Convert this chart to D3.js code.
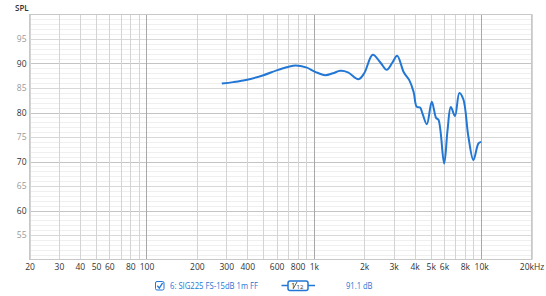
<!DOCTYPE html>
<html><head><meta charset="utf-8">
<script src="https://cdn.jsdelivr.net/npm/d3@7"></script>
<style>
html,body{margin:0;padding:0;background:#fff;}
svg{display:block;font-family:"Open Sans","Noto Sans",sans-serif;}
</style></head>
<body>
<svg id="c" width="546" height="296"></svg>
<script>
// Data
const freqs = [282, 330, 400, 500, 600, 700, 780, 900, 1020, 1170, 1300, 1440, 1600, 1850, 2000, 2250, 2500, 2730, 2950, 3150, 3450, 3720, 3950, 4120, 4320, 4460, 4740, 5070, 5380, 5560, 6010, 6300, 6590, 6980, 7410, 7830, 8390, 8990, 9640, 10000];
const spl   = [85.9, 86.2, 86.7, 87.6, 88.6, 89.3, 89.6, 89.2, 88.3, 87.6, 88.0, 88.5, 88.2, 86.8, 88.0, 91.8, 90.2, 88.7, 90.2, 91.6, 88.2, 86.6, 84.2, 81.2, 81.0, 79.8, 77.6, 82.2, 78.9, 78.5, 69.6, 76.4, 81.1, 79.3, 84.0, 82.7, 75.1, 70.3, 73.7, 74.0];
const xTickValues = [20,30,40,50,60,80,100,200,300,400,600,800,1000,2000,3000,4000,5000,6000,8000,10000,20000];
const xTickLabels = ["20","30","40","50","60","80","100","200","300","400","600","800","1k","2k","3k","4k","5k","6k","8k","10k","20kHz"];
const yTickValues = [55,60,65,70,75,80,85,90,95];
const legendName = "6: SIG225 FS-15dB 1m FF";
const legendValue = "91.1 dB";
const yLabel = "SPL";

const blue = "#2277d4";
const svg = d3.select("#c");
const L = 29.5, R = 531.5, T = 14.5, B = 259.5;
const x = d3.scaleLog().domain([20, 20000]).range([L, R]);
const y = d3.scaleLinear().domain([50, 100]).range([B, T]);

// horizontal grid
const gH = svg.append("g");
d3.range(51, 100).forEach(v => {
  const c = v % 10 === 0 ? "#c4c4c4" : (v % 5 === 0 ? "#d8d8d8" : "#efefef");
  gH.append("line").attr("x1", L).attr("x2", R).attr("y1", Math.round(y(v)) + 0.5).attr("y2", Math.round(y(v)) + 0.5)
    .attr("stroke", c).attr("stroke-width", 1);
});
// vertical grid
const vLines = [];
[10, 100, 1000, 10000].forEach(d => { for (let k = 1; k <= 9; k++) { const f = d * k; if (f >= 20 && f <= 20000) vLines.push(f); } });
vLines.push(20000);
const gV = svg.append("g");
vLines.forEach(f => {
  const dec = Math.abs(Math.log10(f) - Math.round(Math.log10(f))) < 1e-9;
  gV.append("line").attr("x1", Math.round(x(f)) + 0.5).attr("x2", Math.round(x(f)) + 0.5).attr("y1", T).attr("y2", B)
    .attr("stroke", dec ? "#a8a8a8" : "#d4d4d4").attr("stroke-width", 1);
});
// frame
svg.append("rect").attr("x", L).attr("y", T).attr("width", R - L).attr("height", B - T)
  .attr("fill", "none").attr("stroke", "#c8c8c8");

// y labels
const yAxis = d3.axisLeft(y).tickValues(yTickValues).tickSize(0).tickPadding(3);
const ya = svg.append("g").attr("transform", `translate(${L},0)`).call(yAxis);
ya.select(".domain").remove();
ya.selectAll("text").attr("font-size", 8.5).attr("font-family", "'Open Sans','Noto Sans',sans-serif")
  .attr("fill", d => d % 10 === 0 ? "#333" : "#999");

// x labels
const xAxis = d3.axisBottom(x).tickValues(xTickValues).tickSize(0).tickPadding(4)
  .tickFormat((d, i) => xTickLabels[i]);
const xa = svg.append("g").attr("transform", `translate(0,${B})`).call(xAxis);
xa.select(".domain").remove();
xa.selectAll("text").attr("font-size", 8.5).attr("font-family", "'Open Sans','Noto Sans',sans-serif").attr("fill", "#333");

// SPL label
svg.append("text").attr("x", 15).attr("y", 11).attr("font-size", 8).attr("fill", "#333").attr("font-weight", 600).text(yLabel);

// curve
const data = freqs.map((f, i) => [f, spl[i]]);
const line = d3.line().x(d => x(d[0])).y(d => y(d[1])).curve(d3.curveCatmullRom.alpha(0.5));
svg.append("path").datum(data).attr("d", line).attr("fill", "none").attr("stroke", blue).attr("stroke-width", 2);

// legend
const ly = 285.5;
const lg = svg.append("g");
lg.append("rect").attr("x", 155.5).attr("y", ly - 4).attr("width", 8.5).attr("height", 8.5).attr("rx", 1.5)
  .attr("fill", "#fff").attr("stroke", blue).attr("stroke-width", 1);
lg.append("path").attr("d", `M157.3,${ly + 0.3} L159.3,${ly + 2.6} L162.6,${ly - 2.6}`).attr("fill", "none").attr("stroke", blue).attr("stroke-width", 1.3);
lg.append("text").attr("x", 170).attr("y", ly + 3).attr("font-size", 8.5).attr("fill", blue)
  .attr("textLength", 88).attr("lengthAdjust", "spacingAndGlyphs").text(legendName);
lg.append("line").attr("x1", 281.5).attr("x2", 315).attr("y1", ly).attr("y2", ly).attr("stroke", blue).attr("stroke-width", 1.5);
lg.append("rect").attr("x", 288).attr("y", ly - 4.5).attr("width", 20).attr("height", 9.5).attr("rx", 2)
  .attr("fill", "#fff").attr("stroke", blue).attr("stroke-width", 1.5);
lg.append("text").attr("x", 291).attr("y", ly + 2.5).attr("font-size", 7.5).attr("fill", "#333").text("1");
lg.append("line").attr("x1", 293).attr("x2", 297).attr("y1", ly + 3.5).attr("y2", ly - 3.5).attr("stroke", "#333").attr("stroke-width", 0.8);
lg.append("text").attr("x", 296.5).attr("y", ly + 3.5).attr("font-size", 6).attr("fill", "#333").text("12");
lg.append("text").attr("x", 346).attr("y", ly + 3).attr("font-size", 8.5).attr("fill", blue)
  .attr("textLength", 26.5).attr("lengthAdjust", "spacingAndGlyphs").text(legendValue);
</script>
</body></html>
